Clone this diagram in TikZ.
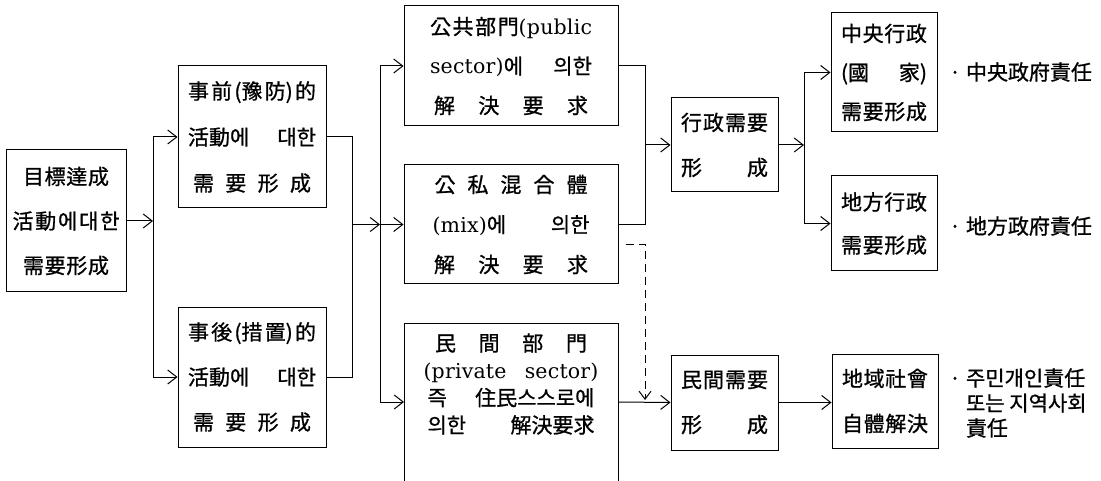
\documentclass[tikz,border=0pt]{standalone}
\usepackage{fontspec}
\setmainfont{Noto Sans CJK KR}[FakeBold=0.9]
\newfontfamily\lat[LetterSpace=1]{DejaVu Serif}
\usetikzlibrary{arrows.meta,calc}
\newcommand\SPR[2]{\makebox[#1pt][s]{#2}}
\newcommand\LT[1]{{\lat\fontsize{20.5}{20.5}\selectfont #1}}
\begin{document}
\begin{tikzpicture}[x=1pt,y=-1pt,
  box/.style={draw, line width=1pt, inner sep=0pt, align=center},
  conn/.style={line width=1pt},
  arr/.style={conn,-{Straight Barb[length=9pt,width=14pt]}},
  lab/.style={anchor=west, inner sep=0pt, align=left, font=\fontsize{21}{25}\selectfont}]
\useasboundingbox (0,0) rectangle (1101,481);
\clip (0,0) rectangle (1101,481);
\fill[white] (0,0) rectangle (1101,481);

% column 1
\node[box, minimum width=120pt, minimum height=142pt, font=\fontsize{21}{44.5}\selectfont] (A) at (66,221)
  {\SPR{86}{目\hfill 標\hfill 達\hfill 成}\\ \SPR{107}{活\hfill 動\hfill 에\hfill 대\hfill 한}\\ \SPR{86}{需\hfill 要\hfill 形\hfill 成}};

% column 2
\node[box, minimum width=148pt, minimum height=142pt, font=\fontsize{21}{46}\selectfont] (B) at (252,137)
  {\SPR{128}{事\hfill 前\hfill(豫\hfill 防)\hfill 的}\\ \SPR{128}{活動에\hfill 대한}\\ \SPR{118}{需\hfill 要\hfill 形\hfill 成}};
\node[box, minimum width=148pt, minimum height=140pt, font=\fontsize{21}{45}\selectfont] (C) at (252,377)
  {\SPR{128}{事\hfill 後\hfill(措\hfill 置)\hfill 的}\\ \SPR{128}{活動에\hfill 대한}\\ \SPR{118}{需\hfill 要\hfill 形\hfill 成}};

% column 3
\node[box, minimum width=214pt, minimum height=120pt, font=\fontsize{21}{39.5}\selectfont] (D) at (511,66)
  {\SPR{162}{公\hfill 共\hfill 部\hfill 門\LT{(public}}\\
   \SPR{162}{\LT{sector)}에\hfill 의한}\\ \SPR{154}{解\hfill 決\hfill 要\hfill 求}};
\node[box, minimum width=214pt, minimum height=119pt, font=\fontsize{21}{40}\selectfont] (E) at (511,224.5)
  {\SPR{153}{公\hfill 私\hfill 混\hfill 合\hfill 體}\\
   \SPR{157}{\LT{(mix)}에\hfill 의한}\\ \SPR{154}{解\hfill 決\hfill 要\hfill 求}};
\node[box, minimum width=214pt, minimum height=177pt] (F) at (511,411.5) {};
\node[inner sep=0pt, align=center, font=\fontsize{21}{27.3}\selectfont] (Ft) at (511,384)
  {\SPR{152}{民\hfill 間\hfill 部\hfill 門}\\
   \SPR{175}{\LT{(private\hfill sector)}}\\
   \SPR{167}{즉\hfill 住民스스로에}\\
   \SPR{167}{의한\hfill 解決要求}};

% column 4
\node[box, minimum width=107pt, minimum height=94pt, font=\fontsize{21}{45}\selectfont] (G1) at (724.5,145)
  {\SPR{87}{行\hfill 政\hfill 需\hfill 要}\\ \SPR{87}{形\hfill 成}};
\node[box, minimum width=107pt, minimum height=95pt, font=\fontsize{21}{45}\selectfont] (G2) at (724.5,402.5)
  {\SPR{87}{民\hfill 間\hfill 需\hfill 要}\\ \SPR{87}{形\hfill 成}};

% column 5
\node[box, minimum width=106pt, minimum height=119pt, font=\fontsize{21}{39}\selectfont] (H1) at (884,72.5)
  {\SPR{86}{中\hfill 央\hfill 行\hfill 政}\\ \SPR{86}{(國\hfill 家)}\\ \SPR{86}{需\hfill 要\hfill 形\hfill 成}};
\node[box, minimum width=106pt, minimum height=95pt, font=\fontsize{21}{43}\selectfont] (H2) at (884,223.5)
  {\SPR{86}{地\hfill 方\hfill 行\hfill 政}\\ \SPR{86}{需\hfill 要\hfill 形\hfill 成}};
\node[box, minimum width=106pt, minimum height=94pt, font=\fontsize{21}{45}\selectfont] (H3) at (885,401)
  {\SPR{86}{地\hfill 域\hfill 社\hfill 會}\\ \SPR{86}{自\hfill 體\hfill 解\hfill 決}};

% labels
\node[lab] (L1) at (949,72) {·\hspace{5pt}中央政府責任};
\node[lab] (L2) at (949,226) {·\hspace{5pt}地方政府責任};
\node[lab] (L3) at (949,403) {·\hspace{5pt}주민개인責任\\\phantom{·}\hspace{5pt}또는 지역사회\\\phantom{·}\hspace{5pt}責任};

% connectors
\coordinate (J1) at (153,221);
\draw[arr] (A.east) -- (J1);
\draw[conn] (B.west -| J1) -- (C.west -| J1);
\draw[arr] (B.west -| J1) -- (B.west);
\draw[arr] (C.west -| J1) -- (C.west);

\coordinate (J2) at (352,0);
\coordinate (J3) at (380,224.5);
\draw[conn] (B.east) -- (B.east -| J2) -- (C.east -| J2) -- (C.east);
\draw[arr] (J2 |- J3) -- (J3);
\coordinate (Fin) at (404,402);
\draw[conn] (D.west -| J3) -- (Fin -| J3);
\draw[arr] (D.west -| J3) -- (D.west);
\draw[arr] (J3) -- (E.west);
\draw[arr] (Fin -| J3) -- (Fin);

\coordinate (J4) at (645,0);
\coordinate (Fout) at (618,402);
\draw[conn] (D.east) -- (D.east -| J4) -- (E.east -| J4) -- (E.east);
\draw[arr] (J4 |- G1.west) -- (G1.west);
\draw[arr, dash pattern=on 8pt off 5pt, -{Straight Barb[length=8pt,width=12pt]}]
  ($(E.east)+(7,20)$) -- ($(E.east -| J4)+(0,20)$) -- ($(J4 |- Fout)+(0,-2)$);
\draw[arr] (Fout) -- (G2.west);

\coordinate (J5) at (804,145);
\draw[arr] (G1.east) -- (J5);
\draw[conn] (H1.west -| J5) -- (H2.west -| J5);
\draw[arr] (H1.west -| J5) -- (H1.west);
\draw[arr] (H2.west -| J5) -- (H2.west);
\draw[arr] (G2.east) -- (G2.east -| H3.west);
\end{tikzpicture}
\end{document}
